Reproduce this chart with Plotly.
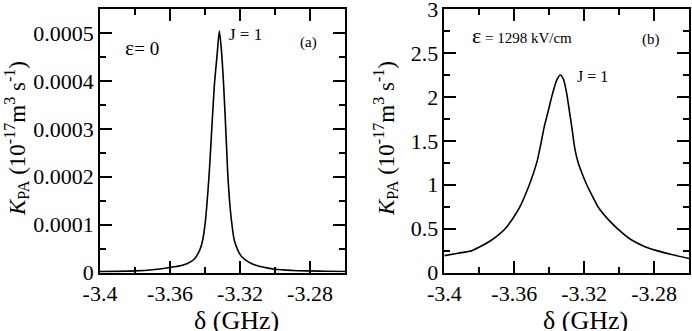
import plotly.graph_objects as go

# ---- data ----
# (a) field-free, E = 0
delta_a = [-3.400, -3.390, -3.380, -3.370, -3.360, -3.3524, -3.3480, -3.3457, -3.3429,
           -3.3413, -3.3400, -3.3390, -3.3376, -3.3368, -3.3347, -3.3330, -3.3318,
           -3.3305, -3.3293, -3.3276, -3.3270, -3.3257, -3.3246, -3.3233, -3.3210,
           -3.3190, -3.3150, -3.3114, -3.300, -3.290, -3.280, -3.270, -3.260]
kpa_a = [0.0000020, 0.0000025, 0.0000035, 0.0000060, 0.0000105, 0.0000159, 0.0000230,
         0.0000300, 0.0000480, 0.0000680, 0.0001000, 0.0001380, 0.0002070, 0.0002560,
         0.0003880, 0.0004580, 0.0005040, 0.0004580, 0.0003880, 0.0002560, 0.0002070,
         0.0001380, 0.0001000, 0.0000680, 0.0000450, 0.0000332, 0.0000220, 0.0000159,
         0.0000070, 0.0000045, 0.0000035, 0.0000028, 0.0000022]

# (b) E = 1298 kV/cm
delta_b = [-3.400, -3.392, -3.3843, -3.3785, -3.3729, -3.3690, -3.3653, -3.3610, -3.3567,
           -3.3514, -3.3490, -3.3467, -3.3448, -3.3428, -3.3404, -3.3380, -3.3355, -3.3336,
           -3.3318, -3.3300, -3.3286, -3.3271, -3.3252, -3.3233, -3.3210, -3.3185, -3.3150,
           -3.3119, -3.3060, -3.3005, -3.2928, -3.2852, -3.2785, -3.2700, -3.2598]
kpa_b = [0.193, 0.221, 0.250, 0.305, 0.371, 0.430, 0.497, 0.610, 0.751,
         0.998, 1.130, 1.283, 1.460, 1.662, 1.850, 2.043, 2.200, 2.250,
         2.200, 2.043, 1.860, 1.662, 1.397, 1.245, 1.120, 1.000, 0.860,
         0.744, 0.600, 0.493, 0.371, 0.295, 0.250, 0.205, 0.160]

x_tickvals = [-3.40, -3.36, -3.32, -3.28]
x_ticktext = ["-3.4", "-3.36", "-3.32", "-3.28"]
x_minorvals = [-3.38, -3.34, -3.30, -3.26]

ya_tickvals = [0, 0.0001, 0.0002, 0.0003, 0.0004, 0.0005]
ya_ticktext = ["0", "0.0001", "0.0002", "0.0003", "0.0004", "0.0005"]
ya_minorvals = [0.00005, 0.00015, 0.00025, 0.00035, 0.00045]

yb_tickvals = [0, 0.5, 1, 1.5, 2, 2.5, 3]
yb_ticktext = ["0", "0.5", "1", "1.5", "2", "2.5", "3"]
yb_minorvals = [0.25, 0.75, 1.25, 1.75, 2.25, 2.75]

W, H = 692, 331
FONT = "Liberation Serif"

fig = go.Figure()
fig.add_trace(go.Scatter(x=delta_a, y=kpa_a, mode="lines", xaxis="x", yaxis="y",
                         line=dict(color="black", width=1.6, shape="spline", smoothing=0.7),
                         showlegend=False))
fig.add_trace(go.Scatter(x=delta_b, y=kpa_b, mode="lines", xaxis="x2", yaxis="y2",
                         line=dict(color="black", width=1.6, shape="spline", smoothing=0.7),
                         showlegend=False))

ydom = [1 - 272.6 / H, 1 - 9 / H]

def xaxis(dom, anchor):
    return dict(domain=dom, anchor=anchor, range=[-3.4, -3.26],
                tickmode="array", tickvals=x_tickvals, ticktext=x_ticktext,
                ticks="inside", ticklen=12, tickwidth=1.5, tickcolor="black",
                minor=dict(tickmode="array", tickvals=x_minorvals, ticks="inside",
                           ticklen=6, tickwidth=1.5, tickcolor="black"),
                showline=True, linecolor="black", linewidth=1.5, mirror="allticks",
                showgrid=False, zeroline=False, automargin=False,
                ticklabeloverflow="allow",
                tickfont=dict(family=FONT, size=22, color="black"))

def yaxis(anchor, rng, tv, tt, mv):
    return dict(domain=ydom, anchor=anchor, range=rng,
                tickmode="array", tickvals=tv, ticktext=tt,
                ticks="inside", ticklen=12, tickwidth=1.5, tickcolor="black",
                minor=dict(tickmode="array", tickvals=mv, ticks="inside",
                           ticklen=6, tickwidth=1.5, tickcolor="black"),
                showline=True, linecolor="black", linewidth=1.5, mirror="allticks",
                showgrid=False, zeroline=False, automargin=False,
                ticklabeloverflow="allow",
                tickfont=dict(family=FONT, size=22, color="black"))

fig.update_layout(
    width=W, height=H,
    margin=dict(l=0, r=0, t=0, b=0, autoexpand=False),
    font=dict(family=FONT, color="black"),
    paper_bgcolor="white", plot_bgcolor="white",
    xaxis=xaxis([100 / W, 345 / W], "y"),
    yaxis=yaxis("x", [0, 0.00055], ya_tickvals, ya_ticktext, ya_minorvals),
    xaxis2=xaxis([444.3 / W, 689 / W], "y2"),
    yaxis2=yaxis("x2", [0, 3.0005], yb_tickvals, yb_ticktext, yb_minorvals),
)

def ann(px, py, text, size, **kw):
    d = dict(x=px / W, y=1 - py / H, xref="paper", yref="paper", text=text,
             showarrow=False, xanchor="center", yanchor="middle",
             font=dict(family=FONT, size=size, color="black"))
    d.update(kw)
    fig.add_annotation(**d)

ytitle = "<i>K</i><sub>PA</sub> (10<sup>-17</sup>m<sup>3</sup> s<sup>-1</sup>)"
ann(17, 139, ytitle, 23, textangle=-90)
ann(386, 139, ytitle, 23, textangle=-90)
ann(236, 320, "δ (GHz)", 26)
ann(585, 320, "δ (GHz)", 26)

ann(142, 47, "<span style='font-size:22px'>ε</span>= 0", 19)
ann(245, 34, "J = 1", 17)
ann(308, 42, "(a)", 15)
ann(522, 35, "<span style='font-size:22px'>ε</span> = 1298 kV/cm", 15)
ann(651, 39, "(b)", 15)
ann(592, 77, "J = 1", 16)

fig.write_html("out.html", config={"displayModeBar": False},
               post_script="document.body.style.margin='0';document.body.style.padding='0';")
